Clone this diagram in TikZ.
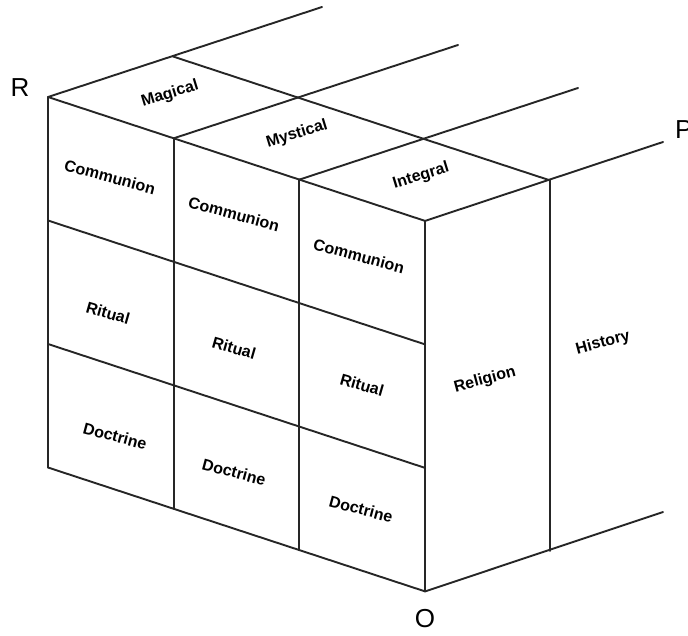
\documentclass[tikz,border=0pt]{standalone}
\usepackage{fontspec}
\setmainfont{Liberation Sans}
\usetikzlibrary{calc}
\begin{document}
\begin{tikzpicture}[x=1pt,y=-1pt,
  edge/.style={line width=1.9pt,black!85,line cap=round,line join=round},
  cell/.style={font=\fontsize{16}{16}\selectfont\bfseries,inner sep=0pt},
  axis/.style={font=\fontsize{26}{26}\selectfont,inner sep=0pt}]
% canvas
\useasboundingbox (0,0) rectangle (688,635);
% projection vectors: u along the front, v downwards, w into depth
\def\ux{125.7}\def\uy{41.3}\def\vy{123.5}\def\wx{125}\def\wy{-40.5}
\coordinate (A) at (48,97);
% front face grid: 3 columns x 3 rows
\foreach \i in {0,...,3}{
  \draw[edge] ($(A)+(\i*\ux,\i*\uy)$) -- ++(0,3*\vy);
}
\foreach \j in {0,...,3}{
  \draw[edge] ($(A)+(0,\j*\vy)$) -- ++(3*\ux,3*\uy);
}
% top face: back edge of the first layer
\draw[edge] ($(A)+(\wx,\wy)$) -- ++(3*\ux,3*\uy);
% depth lines running back from the front top edge
\draw[edge] (A) -- (322,7);
\draw[edge] ($(A)+(\ux,\uy)$) -- (458,45);
\draw[edge] ($(A)+(2*\ux,2*\uy)$) -- (578,88);
\draw[edge] ($(A)+(3*\ux,3*\uy)$) coordinate (D) -- (663,142);
% right face: layer divider and bottom edge
\draw[edge] ($(D)+(\wx,\wy)$) -- ++(0,3*\vy);
\draw[edge] ($(D)+(0,3*\vy)$) coordinate (O) -- (663,512);
% top face labels
\node[cell,rotate=17] (mag) at (170,94) {Magical};
\node[cell,rotate=17] (mys) at (297,134) {Mystical};
\node[cell,rotate=17] (int) at (421,176) {Integral};
% front face labels
\node[cell,rotate=-15] (c1) at (110,177) {Communion};
\node[cell,rotate=-15] (c2) at (234,214) {Communion};
\node[cell,rotate=-15] (c3) at (359,256) {Communion};
\node[cell,rotate=-16] (r1) at (108,313) {Ritual};
\node[cell,rotate=-16] (r2) at (234,348) {Ritual};
\node[cell,rotate=-16] (r3) at (362,385) {Ritual};
\node[cell,rotate=-15] (d1) at (115,436) {Doctrine};
\node[cell,rotate=-15] (d2) at (234,472) {Doctrine};
\node[cell,rotate=-15] (d3) at (361,509) {Doctrine};
% right face labels
\node[cell,rotate=15] (rel) at (485,380) {Religion};
\node[cell,rotate=15] (his) at (603,343) {History};
% axis letters
\node[axis] (R) at (20,88) {R};
\node[axis,anchor=west] (P) at (675,130) {P};
\node[axis] (Olab) at (425,619) {O};
\end{tikzpicture}
\end{document}
